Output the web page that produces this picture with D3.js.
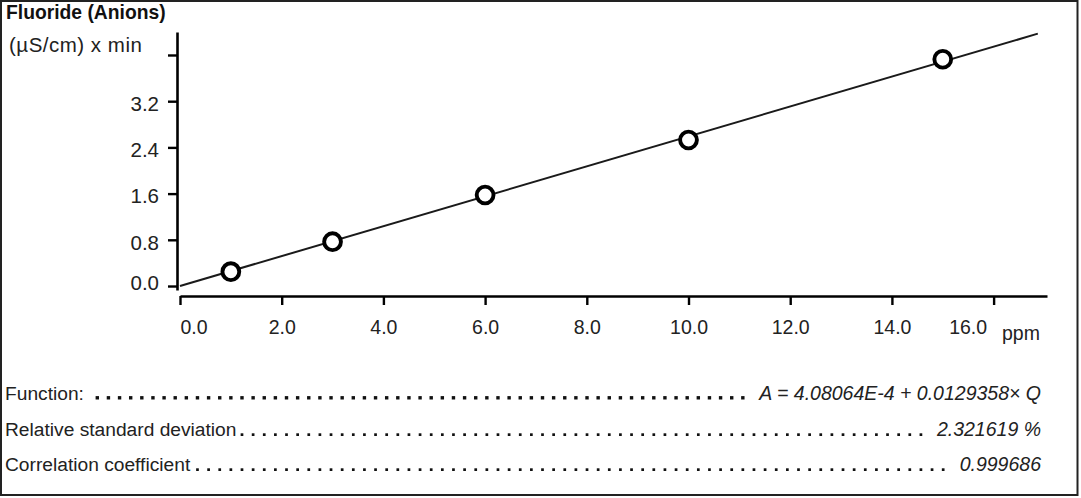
<!DOCTYPE html>
<html>
<head>
<meta charset="utf-8">
<script src="https://cdn.jsdelivr.net/npm/d3@7/dist/d3.min.js"></script>
<style>
  html, body { margin: 0; padding: 0; background: #fff; }
  svg { display: block; }
  text { font-family: "Liberation Sans", Arial, sans-serif; fill: #222; }
</style>
</head>
<body>
<svg id="chart" width="1081" height="498"></svg>
<script>
// ---- data ----
const title = "Fluoride (Anions)";
const yAxisLabel = "(µS/cm) x min";
const xAxisLabel = "ppm";
const qValues = [1, 3, 6, 10, 15];              // ppm
const aValues = [0.248, 0.767, 1.576, 2.528, 3.926];
const lineIntercept = 0.0;
const lineSlope = 0.259;
const lineXEnd = 16.87;
const xTickValues = [0, 2, 4, 6, 8, 10, 12, 14, 16];
const xTickLabels = ["0.0", "2.0", "4.0", "6.0", "8.0", "10.0", "12.0", "14.0", "16.0"];
const yTickValues = [0, 0.8, 1.6, 2.4, 3.2, 4.0];
const yTickLabels = ["0.0", "0.8", "1.6", "2.4", "3.2", ""];
const statLabels = ["Function:", "Relative standard deviation", "Correlation coefficient"];
const statValues = ["A = 4.08064E-4 + 0.0129358× Q", "2.321619 %", "0.999686"];

// ---- layout ----
const svg = d3.select("#chart");
const FS = 19.5;
const FONT = "'Liberation Sans', Arial, sans-serif";

svg.append("rect")
  .attr("x", 1).attr("y", 1).attr("width", 1076.5).attr("height", 494)
  .attr("fill", "none").attr("stroke", "#222").attr("stroke-width", 2);

svg.append("text").attr("x", 6).attr("y", 18.5)
  .style("font-size", "19.3px").style("font-weight", "bold").style("fill", "#111")
  .text(title);

svg.append("text").attr("x", 9).attr("y", 51.5)
  .style("font-size", "20.5px").style("letter-spacing", "0.5px").text(yAxisLabel);

const x = d3.scaleLinear().domain([0, 17.05]).range([180, 1047]);
const y = d3.scaleLinear().domain([-0.069, 4.398]).range([290, 32]);

// y axis
const yAxis = svg.append("g").attr("transform", "translate(177,0)")
  .call(d3.axisLeft(y).tickValues(yTickValues)
    .tickFormat((d, i) => yTickLabels[i]).tickSize(9).tickSizeOuter(0).tickPadding(9));
yAxis.select(".domain").attr("stroke", "#000").attr("stroke-width", 2.6);
yAxis.selectAll(".tick line").attr("stroke", "#000").attr("stroke-width", 2.4);
yAxis.selectAll(".tick text")
  .style("font-size", "20.5px").style("font-family", FONT)
  .attr("fill", "#222")
  .attr("y", (d, i) => i === 0 ? -3.3 : 2.7);

// x axis
const xAxis = svg.append("g").attr("transform", "translate(0,296)")
  .call(d3.axisBottom(x).tickValues(xTickValues)
    .tickFormat((d, i) => xTickLabels[i]).tickSize(9).tickSizeOuter(0).tickPadding(15));
xAxis.select(".domain").attr("stroke", "#000").attr("stroke-width", 2.6);
xAxis.selectAll(".tick line").attr("stroke", "#000").attr("stroke-width", 2.4);
xAxis.selectAll(".tick text")
  .style("font-size", FS + "px").style("font-family", FONT)
  .attr("fill", "#222")
  .attr("text-anchor", (d, i) => i === 0 ? "start" : (i === xTickValues.length - 1 ? "end" : "middle"))
  .attr("x", (d, i) => i === xTickValues.length - 1 ? -7 : 0);

svg.append("text").attr("x", 1002).attr("y", 340)
  .style("font-size", FS + "px").text(xAxisLabel);

// regression line
svg.append("line")
  .attr("x1", x(0)).attr("y1", y(lineIntercept))
  .attr("x2", x(lineXEnd)).attr("y2", y(lineIntercept + lineSlope * lineXEnd))
  .attr("stroke", "#1a1a1a").attr("stroke-width", 2);

// points
svg.selectAll("circle.pt").data(qValues).enter().append("circle")
  .attr("class", "pt")
  .attr("cx", d => x(d)).attr("cy", (d, i) => y(aValues[i]))
  .attr("r", 8.4).attr("fill", "#fff").attr("stroke", "#000").attr("stroke-width", 3.9);

// stats with dot leaders
const rowY = [399.5, 436, 471];
const dotX0 = 97.3, dotStep = 11.13;
statLabels.forEach((lab, i) => {
  const t = svg.append("text").attr("x", 5).attr("y", rowY[i])
    .style("font-size", "19.2px").text(lab);
  const v = svg.append("text").attr("x", 1041).attr("y", rowY[i])
    .attr("text-anchor", "end").style("font-size", "19.5px").style("font-style", "italic")
    .text(statValues[i]);
  const tEnd = 5 + t.node().getComputedTextLength();
  const vStart = 1041 - v.node().getComputedTextLength();
  const kStart = Math.ceil((tEnd + 3.5 - dotX0) / dotStep);
  const kEnd = Math.floor((vStart - 7 - dotX0) / dotStep);
  const ks = d3.range(Math.max(0, kStart), kEnd + 1);
  const s = i === 0 ? 3.4 : 2.7;
  svg.selectAll(null).data(ks).enter().append("rect")
    .attr("x", k => dotX0 + k * dotStep - s / 2)
    .attr("y", rowY[i] - s)
    .attr("width", s).attr("height", s)
    .attr("fill", "#111");
});
</script>
</body>
</html>
